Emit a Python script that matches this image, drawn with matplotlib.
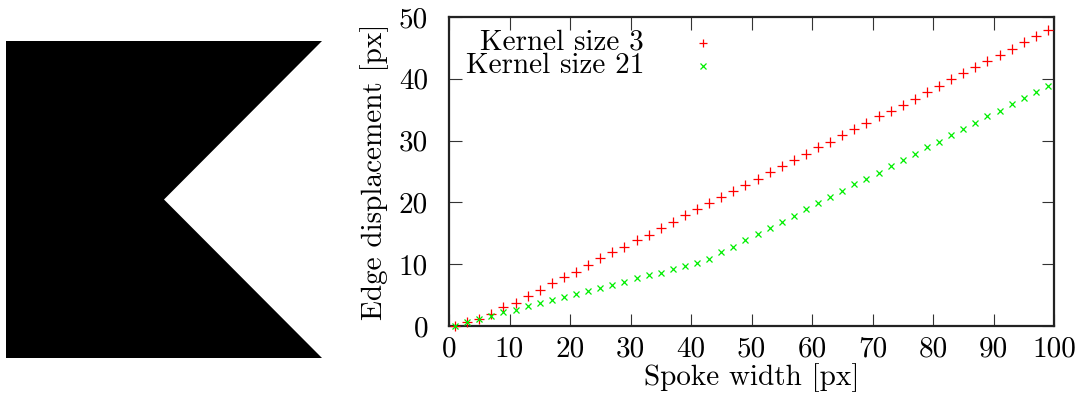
import matplotlib
matplotlib.use("Agg")
import matplotlib.pyplot as plt
from matplotlib.patches import Polygon

# ---- data ----
spoke_width = list(range(1, 100, 2))
kernel3 = [0.0, 0.6, 1.2, 1.9, 3.0, 3.8, 4.9, 5.8, 6.9, 7.9,
           8.8, 9.8, 11.0, 11.9, 12.8, 13.9, 14.8, 15.9, 16.9, 17.9,
           18.9, 19.9, 20.8, 21.9, 22.8, 23.8, 24.9, 25.9, 26.9, 27.8,
           28.9, 29.8, 30.9, 31.8, 32.8, 33.9, 34.8, 35.8, 36.8, 37.9,
           38.8, 39.9, 40.9, 41.9, 42.8, 43.9, 44.8, 45.9, 46.9, 47.9]
kernel21 = [0.0, 0.6, 1.1, 1.6, 2.2, 2.6, 3.2, 3.7, 4.2, 4.7,
            5.2, 5.7, 6.2, 6.6, 7.2, 7.7, 8.2, 8.6, 9.2, 9.7,
            10.2, 10.9, 11.9, 12.8, 13.9, 14.9, 15.9, 16.9, 17.8, 18.9,
            19.9, 20.8, 21.8, 22.9, 23.8, 24.8, 25.9, 26.9, 27.8, 28.9,
            29.8, 30.9, 31.9, 32.9, 33.9, 34.8, 35.9, 36.9, 37.9, 38.8]
series_labels = ["Kernel size 3", "Kernel size 21"]
x_ticks = [0, 10, 20, 30, 40, 50, 60, 70, 80, 90, 100]
y_ticks = [0, 10, 20, 30, 40, 50]
# notched shape (unit square with V-notch on the right)
shape_x = [0, 1, 0.5, 1, 0]
shape_y = [0, 0, 0.5, 1, 1]

plt.rcParams['font.family'] = ['cmr10', 'DejaVu Serif']
plt.rcParams['mathtext.fontset'] = 'cm'
plt.rcParams['axes.unicode_minus'] = False

W, H = 1081, 405
FS = 21
fig = plt.figure(figsize=(W / 100, H / 100), dpi=100)

def px_rect(x0, y0, x1, y1):
    return [x0 / W, 1 - y1 / H, (x1 - x0) / W, (y1 - y0) / H]

# left: shape image
axs = fig.add_axes(px_rect(6, 41, 322, 358))
axs.add_patch(Polygon(list(zip(shape_x, shape_y)), closed=True,
                      facecolor='black', edgecolor='none'))
axs.set_xlim(0, 1)
axs.set_ylim(0, 1)
axs.axis('off')

# right: scatter plot
ax = fig.add_axes(px_rect(449, 17, 1054, 326))
ax.plot(spoke_width, kernel3, linestyle='none', marker='+', color='#ff0000',
        markersize=7, markeredgewidth=0.9, clip_on=False, zorder=3)
ax.plot(spoke_width, kernel21, linestyle='none', marker='x', color='#00ee00',
        markersize=5, markeredgewidth=0.9, clip_on=False, zorder=3)
ax.set_xlim(0, 100)
ax.set_ylim(0, 50)
ax.set_xticks(x_ticks)
ax.set_yticks(y_ticks)
ax.tick_params(direction='in', length=9, width=0.8, color='#333333',
               top=True, right=True, labelsize=FS)
ax.tick_params(axis='x', pad=7)
ax.tick_params(axis='y', pad=15)
for s in ax.spines.values():
    s.set_linewidth(1.6)
    s.set_color('#222222')
ax.set_xlabel("Spoke width [px]", fontsize=FS, labelpad=1)
ax.set_ylabel("Edge displacement [px]", fontsize=FS, labelpad=7)

# gnuplot-style key: right-aligned text, marker to the right
def ax_coords(xp, yp):
    return ((xp - 449) / (1054 - 449), (326 - yp) / (326 - 17))

for (lbl, mk, col, ms, ty, my) in [
        (series_labels[0], '+', '#ff0000', 6, 42, 43),
        (series_labels[1], 'x', '#00ee00', 4.5, 66, 66)]:
    tx, tyy = ax_coords(644, ty)
    ax.text(tx, tyy, lbl, transform=ax.transAxes, ha='right', va='center',
            fontsize=FS)
    mx, myy = ax_coords(703, my)
    ax.plot([mx], [myy], transform=ax.transAxes, linestyle='none', marker=mk,
            color=col, markersize=ms, markeredgewidth=0.9)

fig.savefig("out.png", dpi=100)
